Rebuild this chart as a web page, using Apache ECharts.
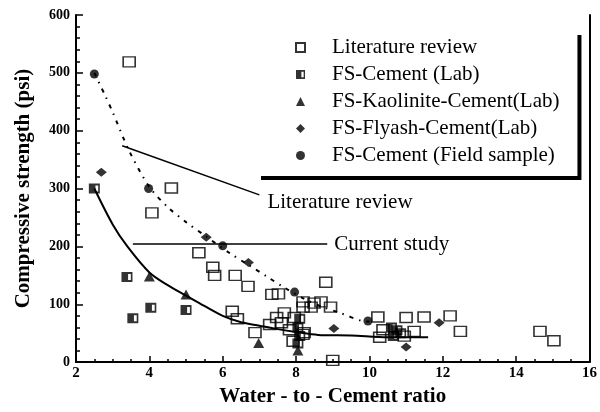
<!DOCTYPE html>
<html>
<head>
<meta charset="utf-8">
<script src="https://cdn.jsdelivr.net/npm/echarts@6/dist/echarts.min.js"></script>
<style>html,body{margin:0;padding:0;background:#fff}#c{width:600px;height:412px}</style>
</head>
<body>
<div id="c"></div>
<script>
// ---- data ----
const xTicks = [2, 4, 6, 8, 10, 12, 14, 16];
const yTicks = [0, 100, 200, 300, 400, 500, 600];

const literature = [
  [3.45,519],[4.6,301],[4.07,258],[5.35,189],[5.73,164],[5.78,150],[6.34,150],[6.69,131],
  [7.34,117],[7.52,118],[6.26,88],[6.4,75],[6.88,51],[7.28,65],[7.47,77],[7.6,68],
  [7.68,85],[7.95,77],[7.82,56],[7.92,36],[8.22,51],[8.19,104],[8.19,95],[8.41,95],
  [8.68,104],[8.94,95],[8.81,138],[8.49,102],[8.19,48],[9.0,3],
  [10.23,78],[10.37,56],[10.28,43],[11.0,77],[10.95,45],[11.22,53],[11.49,78],
  [12.2,80],[12.48,53],[14.65,53],[15.03,37]
];
const fsCementLab = [
  [2.5,300],[3.39,147],[3.55,76],[4.04,94],[5.0,90],
  [8.1,75],[8.05,60],[8.1,45],[8.05,32],
  [10.6,60],[10.75,55],[10.65,45],[10.85,50]
];
const fsKaolinite = [[4.0,148],[5.0,117],[6.98,33],[8.05,20]];
const fsFlyash = [[2.69,328],[5.55,216],[6.7,172],[9.03,58],[11.0,26],[11.9,68]];
const fsField = [[2.5,498],[3.98,300],[6.0,201],[7.96,121],[9.96,71]];

const literatureCurve = [
  [2.5,500],[2.8,460],[3.0,432],[3.45,365],[4.0,303],[4.5,268],[5.0,242],[5.55,217],
  [6.2,188],[6.7,168],[7.2,148],[7.65,130],[8.2,110],[8.7,96],[9.2,85],[9.8,71],[10.0,70]
];
const currentCurve = [
  [2.5,300],[3.0,238],[3.4,200],[4.0,155],[4.5,133],[5.0,115],[5.5,97],[6.0,80],
  [6.5,69],[7.0,63],[7.5,57],[8.0,52],[8.6,47],[9.5,46],[10.5,43],[11.6,43]
];
const litNote = [[3.26,374],[7.0,289]];
const curNote = [[3.55,204],[8.85,204]];
const litNoteText = 'Literature review';
const curNoteText = 'Current study';

const serif = 'Liberation Serif';
const halfSquare = 'path://M0,0L10,0L10,10L0,10Z M6,2L6,8L8.5,8L8.5,2Z';

const chart = echarts.init(document.getElementById('c'), null, {renderer: 'canvas'});
chart.setOption({
  animation: false,
  backgroundColor: '#fff',
  grid: {left: 76, right: 2, top: 15, bottom: 44},
  legend: {
    orient: 'vertical', left: 257, top: 31,
    itemWidth: 9, itemHeight: 9, itemGap: 6,
    padding: [6, 18, 10, 38],
    backgroundColor: '#fff', borderWidth: 0,
    shadowColor: '#000', shadowOffsetX: 4, shadowOffsetY: 4, shadowBlur: 0,
    textStyle: {fontFamily: serif, fontSize: 21, lineHeight: 21, color: '#000', padding: [0, 0, 0, 22]},
    data: ['Literature review', 'FS-Cement (Lab)', 'FS-Kaolinite-Cement(Lab)', 'FS-Flyash-Cement(Lab)', 'FS-Cement (Field sample)']
  },
  xAxis: {
    type: 'value', min: 2, max: 16, interval: 2,
    name: 'Water - to - Cement ratio', nameLocation: 'middle', nameGap: 20,
    nameTextStyle: {fontFamily: serif, fontSize: 21, fontWeight: 'bold', color: '#000'},
    axisLine: {lineStyle: {color: '#000', width: 2}},
    axisTick: {inside: true, length: 6, lineStyle: {color: '#000', width: 1.5}},
    minorTick: {show: true, splitNumber: 4, length: 3, lineStyle: {color: '#000', width: 1.5}},
    axisLabel: {margin: 4, fontFamily: serif, fontSize: 15, fontWeight: 'bold', color: '#000',
      customValues: xTicks},
    splitLine: {show: false}
  },
  yAxis: [{
    type: 'value', min: 0, max: 600, interval: 100,
    name: 'Compressive strength (psi)', nameLocation: 'middle', nameGap: 42,
    nameTextStyle: {fontFamily: serif, fontSize: 21, fontWeight: 'bold', color: '#000'},
    axisLine: {show: true, lineStyle: {color: '#000', width: 2}},
    axisTick: {inside: true, length: 7, lineStyle: {color: '#000', width: 1.5}},
    minorTick: {show: true, splitNumber: 5, length: 4, lineStyle: {color: '#000', width: 1.5}},
    axisLabel: {margin: 6, fontFamily: serif, fontSize: 14, fontWeight: 'bold', color: '#000',
      customValues: yTicks},
    splitLine: {show: false}
  }, {
    type: 'value', min: 0, max: 600, position: 'right',
    axisLine: {show: true, lineStyle: {color: '#000', width: 2}},
    axisTick: {show: false}, axisLabel: {show: false}, splitLine: {show: false}
  }],
  series: [
    {type: 'line', data: literatureCurve, smooth: 0.3, symbol: 'none', silent: true, z: 1,
      lineStyle: {color: '#000', width: 2, type: [4, 6, 1.5, 6]}},
    {type: 'line', data: currentCurve, smooth: 0.3, symbol: 'none', silent: true, z: 1,
      lineStyle: {color: '#000', width: 2}},
    {type: 'line', data: litNote, symbol: 'none', silent: true, z: 1,
      lineStyle: {color: '#000', width: 1.5},
      endLabel: {show: true, distance: 3, offset: [5, 8], formatter: () => litNoteText,
        fontFamily: serif, fontSize: 21, color: '#000'}},
    {type: 'line', data: curNote, symbol: 'none', silent: true, z: 1,
      lineStyle: {color: '#000', width: 1.5},
      endLabel: {show: true, distance: 3, offset: [4, 0], formatter: () => curNoteText,
        fontFamily: serif, fontSize: 21, color: '#000'}},
    {name: 'Literature review', type: 'scatter', data: literature, symbol: 'rect', symbolSize: [12, 10], z: 3,
      itemStyle: {color: 'rgba(255,255,255,0)', borderColor: '#000', borderWidth: 1.5}},
    {name: 'FS-Cement (Lab)', type: 'scatter', data: fsCementLab, symbol: halfSquare, symbolSize: [11, 10], z: 4,
      itemStyle: {color: '#000'}},
    {name: 'FS-Kaolinite-Cement(Lab)', type: 'scatter', data: fsKaolinite, symbol: 'triangle', symbolSize: [11, 10], z: 4,
      itemStyle: {color: '#000'}},
    {name: 'FS-Flyash-Cement(Lab)', type: 'scatter', data: fsFlyash, symbol: 'diamond', symbolSize: [11, 9], z: 4,
      itemStyle: {color: '#000'}},
    {name: 'FS-Cement (Field sample)', type: 'scatter', data: fsField, symbol: 'circle', symbolSize: 9, z: 4,
      itemStyle: {color: '#000'}}
  ]
});
</script>
</body>
</html>
